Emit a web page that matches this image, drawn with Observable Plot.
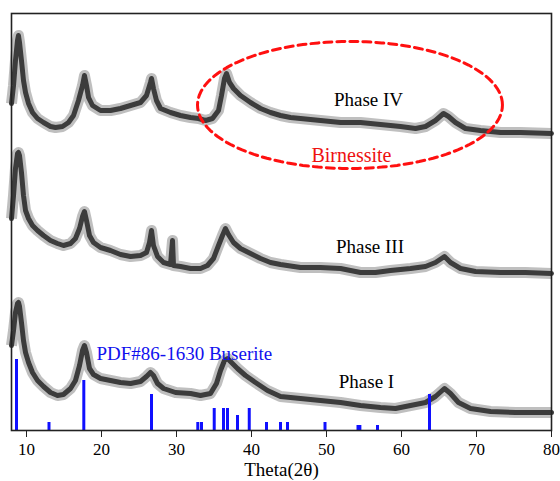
<!DOCTYPE html>
<html>
<head>
<meta charset="utf-8">
<script src="https://cdn.jsdelivr.net/npm/d3@7"></script>
<script src="https://cdn.jsdelivr.net/npm/@observablehq/plot@0.6"></script>
<style>
  html, body { margin: 0; padding: 0; background: #fff; }
</style>
</head>
<body>
<div id="chart"></div>
<script>
// ---- Data (2θ in degrees, intensity in arbitrary offset units) ----
const xTicks = [10, 20, 30, 40, 50, 60, 70, 80];

const thetaIV = [8.0, 8.27, 8.53, 8.8, 8.93, 9.07, 9.33, 9.6, 9.87, 10.27, 10.8, 11.47, 12.27, 13.2, 13.87, 14.8, 15.6, 16.27, 16.93, 17.47, 17.73, 18.0, 18.27, 18.8, 19.87, 21.2, 22.53, 23.87, 25.2, 26.0, 26.53, 26.67, 26.93, 27.33, 27.87, 29.2, 30.53, 31.87, 32.93, 33.87, 34.8, 35.6, 36.0, 36.4, 36.67, 37.07, 37.6, 38.53, 39.87, 41.2, 42.53, 43.87, 45.2, 46.53, 49.2, 51.87, 54.53, 57.2, 59.87, 61.87, 63.2, 64.53, 65.6, 66.27, 67.2, 68.53, 70.53, 73.2, 75.87, 80];
const phaseIV = [327, 345, 370, 390, 395, 388, 370, 350, 338, 327, 318, 312, 308, 304, 303, 304, 308, 315, 330, 345, 355, 345, 333, 325, 320, 320, 322, 325, 328, 335, 348, 352, 342, 330, 322, 318, 315, 313, 312, 310, 312, 320, 335, 352, 357, 348, 342, 335, 328, 322, 318, 315, 313, 312, 310, 308, 308, 306, 304, 302, 304, 310, 317, 314, 308, 302, 300, 298, 298, 297];

const thetaIII = [8.0, 8.27, 8.53, 8.8, 8.93, 9.07, 9.33, 9.6, 9.87, 10.27, 10.8, 11.47, 12.27, 13.2, 14.13, 14.93, 15.87, 16.53, 17.07, 17.47, 17.73, 18.0, 18.4, 18.93, 19.87, 21.2, 22.53, 23.87, 25.2, 26.0, 26.4, 26.67, 26.93, 27.47, 28.27, 29.2, 29.47, 29.6, 30.53, 31.87, 33.2, 34.13, 34.93, 35.6, 36.13, 36.53, 36.93, 37.6, 38.53, 39.87, 41.2, 42.53, 43.87, 46.53, 49.2, 51.87, 54.53, 56.53, 58.53, 61.2, 63.2, 64.53, 65.73, 66.53, 67.87, 69.87, 73.2, 76.53, 80];
const phaseIII = [212, 235, 262, 277, 278, 275, 258, 235, 220, 212, 205, 200, 195, 190, 187, 185, 187, 192, 202, 214, 219, 210, 195, 188, 183, 180, 176, 174, 175, 178, 188, 200, 185, 174, 168, 166, 190, 165, 164, 162, 162, 165, 172, 185, 195, 202, 196, 188, 182, 177, 172, 168, 166, 163, 163, 162, 158, 158, 160, 162, 164, 168, 174, 168, 162, 159, 158, 158, 157];

const thetaI = [8.0, 8.27, 8.53, 8.8, 8.93, 9.07, 9.33, 9.6, 9.87, 10.27, 10.8, 11.47, 12.27, 13.2, 14.13, 14.93, 15.87, 16.53, 17.07, 17.47, 17.73, 18.0, 18.4, 18.93, 19.87, 21.2, 22.53, 23.87, 25.2, 26.0, 26.53, 26.93, 27.47, 28.27, 29.87, 31.87, 33.2, 34.53, 35.33, 35.87, 36.4, 36.8, 37.33, 38.13, 39.2, 40.53, 42.13, 43.87, 46.53, 49.2, 51.87, 54.53, 57.2, 59.2, 61.2, 63.2, 64.53, 65.73, 66.53, 67.6, 69.2, 71.87, 75.2, 80];
const phaseI = [85, 100, 118, 127, 128, 124, 108, 90, 78, 68, 58, 50, 44, 38, 35, 36, 42, 50, 65, 80, 85, 78, 62, 56, 52, 50, 48, 47, 49, 54, 58, 55, 47, 42, 38, 37, 35, 37, 47, 60, 70, 72, 68, 62, 55, 48, 40, 34, 32, 30, 28, 25, 23, 22, 25, 28, 34, 42, 37, 28, 22, 19, 18, 18];

// PDF#86-1630 Buserite reference lines
const pdfTheta = [8.67, 13.0, 17.64, 26.67, 32.84, 33.33, 35.03, 36.27, 36.8, 38.13, 39.7, 42.0, 43.87, 44.8, 49.8, 54.2, 54.45, 56.8, 63.73];
const pdfHeight = [71, 8, 50, 36, 8, 8, 22, 22, 22, 15, 22, 8, 8, 8, 8, 5, 5, 5, 36];

// Annotations
const labelTexts = ["Phase IV", "Phase III", "Phase I"];
const labelTheta = [55.6, 55.8, 55.33];
const labelY = [330.5, 184, 48.5];

// Ellipse annotation (center and radii, in data units)
const ellCenter = [53.13, 325.5];
const ellRadius = [20.33, 63.5];

// ---- Build tables ----
const toRows = (xs, ys) => xs.map((x, i) => ({x, y: ys[i]}));
const traces = [toRows(thetaIV, phaseIV), toRows(thetaIII, phaseIII), toRows(thetaI, phaseI)];
const sticks = pdfTheta.map((x, i) => ({x, h: pdfHeight[i]}));
const labels = labelTexts.map((t, i) => ({t, x: labelTheta[i], y: labelY[i]}));
const ellipse = d3.range(0, 361, 3).map(a => ({
  x: ellCenter[0] + ellRadius[0] * Math.cos(a * Math.PI / 180),
  y: ellCenter[1] + ellRadius[1] * Math.sin(a * Math.PI / 180)
}));

const font = "Liberation Serif, Times New Roman, serif";

const marks = [];
for (const tr of traces) {
  marks.push(Plot.line(tr, {x: "x", y: "y", stroke: "#8a8a8a", strokeWidth: 11, strokeOpacity: 0.55, strokeLinejoin: "round", strokeLinecap: "butt"}));
  marks.push(Plot.line(tr, {x: "x", y: "y", stroke: "#3c3c3c", strokeWidth: 5, strokeLinejoin: "round"}));
}
marks.push(
  Plot.ruleX(sticks, {x: "x", y1: 0, y2: "h", stroke: "#1010ff", strokeWidth: 3}),
  Plot.line(ellipse, {x: "x", y: "y", stroke: "#ff1010", strokeWidth: 3, strokeDasharray: "8,5", curve: "linear"}),
  Plot.text(labels, {x: "x", y: "y", text: "t", fill: "#000", fontSize: 19, fontFamily: font, textAnchor: "middle"}),
  Plot.text(["Birnessite"], {x: 53.33, y: 275, text: d => d, fill: "#ee1111", fontSize: 20, fontFamily: font, textAnchor: "middle"}),
  Plot.text(["PDF#86-1630 Buserite"], {x: 19.33, y: 76.5, text: d => d, fill: "#1010ee", fontSize: 19, fontFamily: font, textAnchor: "start"}),
  Plot.text(["Theta(2\u03B8)"], {frameAnchor: "bottom", dy: 45, text: d => d, fill: "#000", fontSize: 19, fontFamily: font, textAnchor: "middle"}),
  Plot.axisX({ticks: xTicks, tickSize: 7, tickPadding: 5, tickFormat: d => String(d), fontSize: 17, fontFamily: font, stroke: "#222", label: null}),
  Plot.frame({stroke: "#222", strokeWidth: 1.6})
);

const chart = Plot.plot({
  width: 560,
  height: 481,
  marginLeft: 11,
  marginRight: 9,
  marginTop: 13,
  marginBottom: 51,
  x: {domain: [8, 80], label: null},
  y: {domain: [0, 417], axis: null},
  style: {fontFamily: font, fontSize: "17px", background: "#fff", color: "#000"},
  marks
});
document.getElementById("chart").appendChild(chart);
</script>
</body>
</html>
